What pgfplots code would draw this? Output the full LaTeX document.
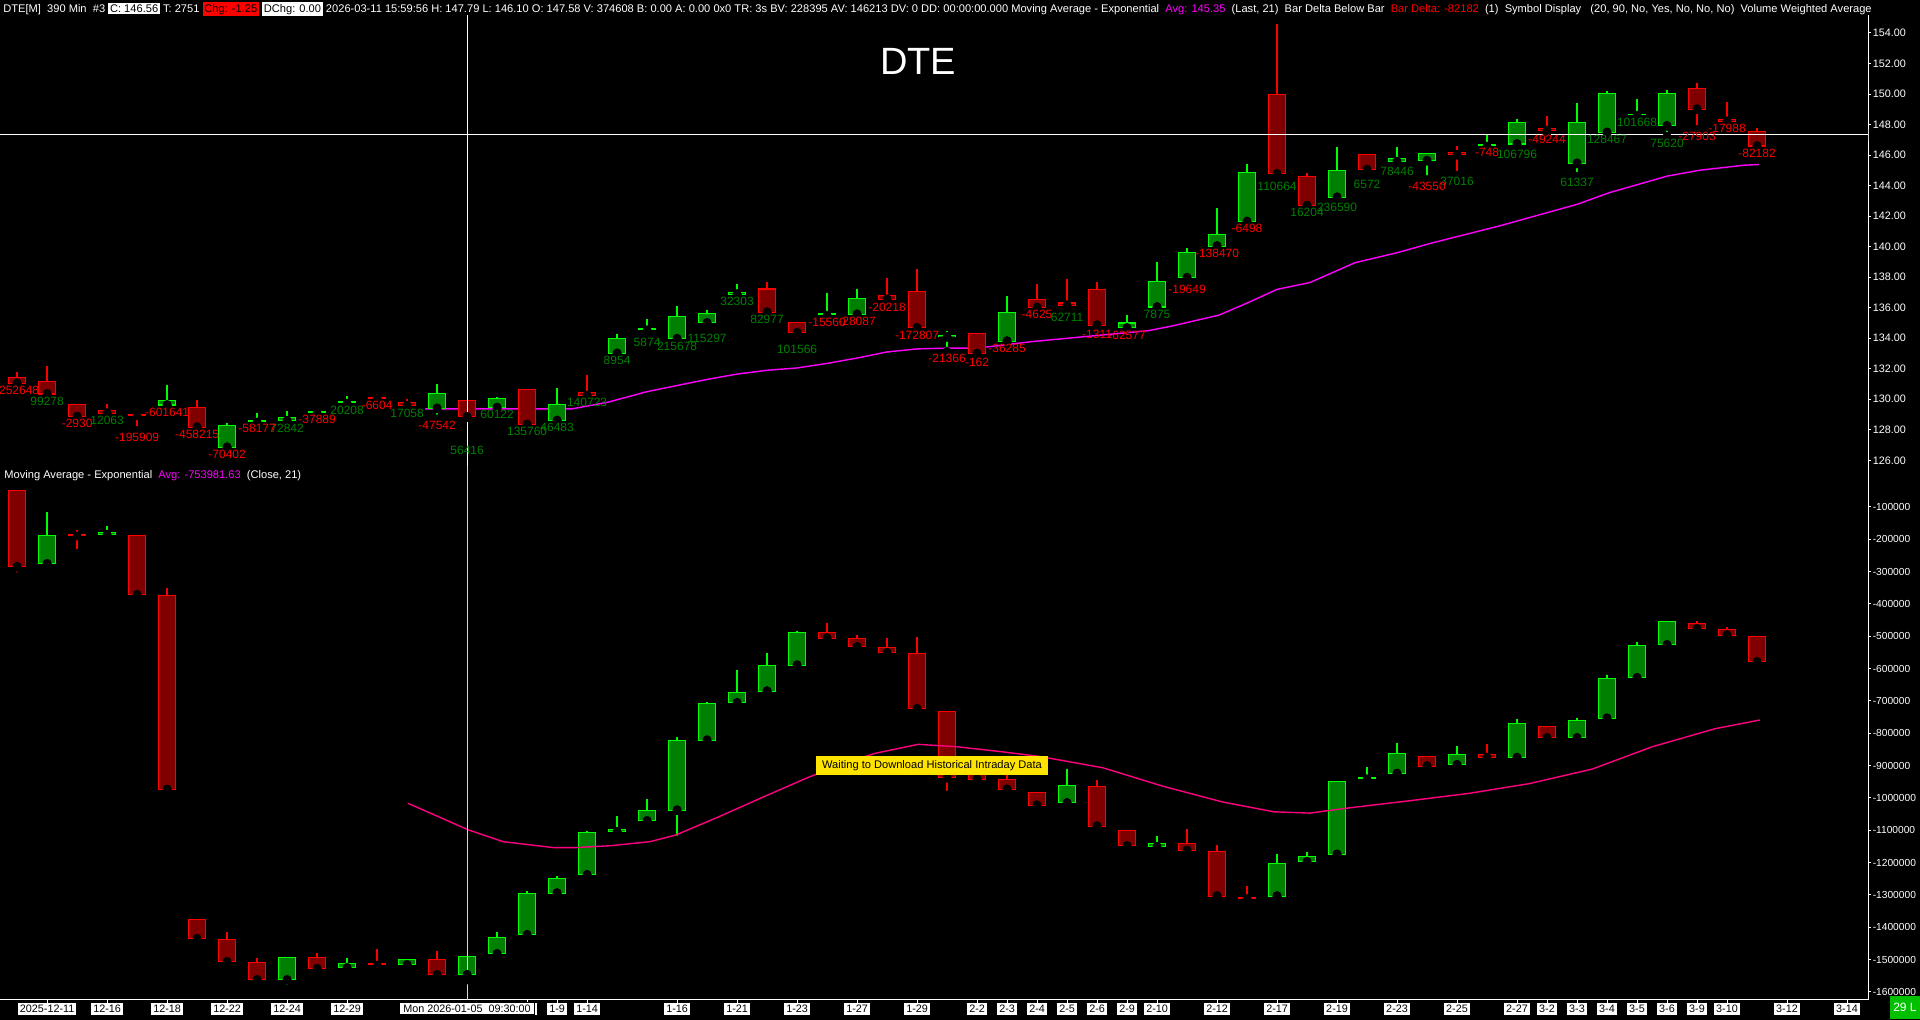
\documentclass[border=0pt]{standalone}
\usepackage{pgfplots}
\pgfplotsset{compat=1.18}
\usepackage{pgfplotstable}
\usepackage{fontspec}
\setmainfont{Liberation Sans}
\definecolor{upfill}{HTML}{008000}
\definecolor{upline}{HTML}{00FF00}
\definecolor{dnfill}{HTML}{800000}
\definecolor{dnline}{HTML}{FF0000}
\definecolor{poslab}{HTML}{008000}
\definecolor{neglab}{HTML}{FF0000}
\definecolor{emaA}{HTML}{FF00FF}
\definecolor{emaB}{HTML}{FF0080}
\definecolor{waitbox}{HTML}{FFE400}
\definecolor{okbox}{HTML}{00C000}
\newcommand{\hdr}{\fontsize{5.55}{6.5}\selectfont}
\newcommand{\lab}{\fontsize{6}{7}\selectfont}
\newcommand{\tck}{\fontsize{5.4}{6}\selectfont}
\newcommand{\tcks}{\fontsize{5.1}{6}\selectfont}
\setlength{\fboxsep}{0.9pt}

% ---------- price panel ----------
\pgfplotstableread{
i o h l c
5 129.59 130.94 129.59 129.94
7 126.82 128.44 126.82 128.33
8 128.50 129.11 128.50 128.59
9 128.55 129.22 128.55 128.83
10 129.09 129.33 129.09 129.16
11 129.74 130.24 129.74 129.80
14 129.37 131.01 128.72 130.42
16 129.42 130.18 129.42 130.07
18 128.57 130.72 128.57 129.70
20 132.97 134.25 132.97 133.99
21 134.55 135.26 134.17 134.65
22 133.93 136.10 133.93 135.43
23 134.97 135.84 134.45 135.63
24 136.85 137.54 136.85 137.06
27 135.50 136.95 135.50 135.56
28 135.53 137.21 135.53 136.66
31 134.05 134.45 133.14 134.24
33 133.77 136.78 133.77 135.69
37 134.64 135.51 134.64 135.03
38 136.01 139.02 136.01 137.76
39 137.93 139.93 137.65 139.67
40 140.00 142.55 140.00 140.85
41 141.61 145.42 141.61 144.90
44 143.20 146.51 143.03 145.01
46 145.53 146.51 145.38 145.81
47 145.60 146.14 144.40 146.14
49 146.58 147.38 146.58 146.64
50 146.69 148.39 146.51 148.17
52 145.42 149.41 144.62 148.17
53 147.45 150.17 147.45 150.06
54 148.60 149.69 148.60 148.66
55 147.88 150.28 147.23 150.06
}\topUp
\pgfplotstableread{
i o h l c
0 131.44 131.77 131.01 131.01
1 131.18 132.20 130.31 130.31
2 129.70 129.70 128.83 128.83
3 129.31 129.68 129.05 129.05
4 129.02 129.02 127.96 128.92
6 129.48 129.96 128.13 128.13
12 130.10 130.35 130.03 130.03
13 129.81 130.03 129.53 129.53
15 129.94 129.94 128.81 128.81
17 130.66 130.66 128.31 128.31
19 130.46 131.59 130.20 130.20
25 137.26 137.65 135.67 135.67
26 135.04 135.04 133.73 134.32
29 136.86 137.97 136.45 136.51
30 137.10 138.52 134.64 134.64
32 134.32 134.32 132.86 132.96
34 136.60 137.54 135.97 135.97
35 136.34 137.87 135.80 136.12
36 137.25 137.71 134.70 134.82
42 150.00 154.59 144.40 144.73
43 144.62 144.83 142.66 142.66
45 146.08 146.08 144.50 145.01
48 146.21 146.58 144.68 145.99
51 147.77 148.58 147.45 147.56
56 150.39 150.71 147.67 148.97
57 148.39 149.47 148.17 148.17
58 147.58 147.79 146.56 146.56
}\topDn
\pgfplotstableread{
i y t
1 130.31 99278
3 129.05 12063
9 128.55 72842
11 129.74 20208
13 129.53 17058
15 127.10 56416
16 129.42 60122
17 128.31 135760
18 128.57 46483
19 130.20 140723
20 132.97 8954
21 134.17 5874
22 133.93 215678
23 134.45 115297
24 136.85 32303
25 135.67 82977
26 133.73 101566
35 135.80 62711
38 136.01 7875
42 144.40 110664
43 142.66 16204
44 143.03 236590
45 144.50 6572
46 145.38 78446
48 144.68 37016
50 146.51 106796
52 144.62 61337
53 147.45 128467
54 148.60 101668
55 147.23 75620
}\posLab
\pgfplotstableread{
i y t
0 131.01 -252648
2 128.83 -2930
4 127.96 -195909
5 129.59 -601641
6 128.13 -458215
7 126.82 -70402
8 128.50 -58177
10 129.09 -37889
12 130.03 -6604
14 128.72 -47542
27 135.50 -15560
28 135.53 -28087
29 136.45 -20218
30 134.64 -172807
31 133.14 -21366
32 132.86 -162
33 133.77 -36285
34 135.97 -4625
36 134.70 -1311
37 134.64 -62577
39 137.65 -19649
40 140.00 -138470
41 141.61 -6498
47 144.40 -43550
49 146.58 -748
51 147.45 -49244
56 147.67 -27903
57 148.17 -17988
58 146.56 -82182
}\negLab

% ---------- cumulative delta panel (thousands) ----------
\pgfplotstableread{
i o h l c
1 -277.5 -114.6 -277.5 -186.8
3 -187.8 -157.9 -207.4 -178.5
9 -1564.3 -1493.1 -1592.0 -1493.1
11 -1527.1 -1495.2 -1527.1 -1510.6
13 -1517.8 -1498.2 -1523.9 -1498.2
15 -1548.7 -1490.0 -1563.3 -1490.0
16 -1483.8 -1414.7 -1483.8 -1431.1
17 -1424.9 -1287.7 -1424.9 -1294.9
18 -1295.9 -1241.5 -1300.5 -1248.7
19 -1239.4 -1102.3 -1239.4 -1106.4
20 -1106.9 -1056.0 -1106.9 -1096.2
21 -1072.3 -1003.3 -1072.3 -1037.4
22 -1039.4 -810.5 -1130.1 -820.8
23 -822.9 -702.3 -848.7 -707.4
24 -707.4 -604.3 -714.6 -673.4
25 -671.3 -550.8 -671.3 -589.9
26 -590.9 -483.7 -604.3 -487.8
35 -1017 -911 -1017 -960
38 -1153 -1119 -1158 -1141
42 -1305 -1172 -1305 -1202
43 -1199 -1168 -1205 -1180
44 -1176 -949 -1176 -949
45 -941 -903 -955 -937
46 -926 -831 -926 -861
48 -899 -838 -899 -865
50 -877 -755 -877 -767
52 -816 -752 -832 -759
53 -755 -620 -755 -630
54 -630 -517 -630 -528
55 -528 -452 -528 -452
}\botUp
\pgfplotstableread{
i o h l c
0 -47.6 -47.6 -315.7 -286.8
2 -183.0 -171.3 -243.5 -190.0
4 -187.8 -187.8 -373.4 -373.4
5 -373.4 -351.7 -975.5 -975.5
6 -1375.5 -1375.5 -1443.0 -1437.4
7 -1437.4 -1414.7 -1511.0 -1508.6
8 -1508.6 -1496.3 -1564.3 -1564.3
10 -1493.1 -1480.7 -1530.2 -1530.2
12 -1510.6 -1467.3 -1517.8 -1517.8
14 -1498.2 -1472.5 -1548.7 -1548.7
27 -487.8 -457.9 -526.0 -507.4
28 -506.4 -496.1 -534.2 -534.2
29 -533.2 -504.3 -558.0 -552.8
30 -552.8 -501.3 -726.0 -726.0
31 -731.1 -731.1 -990.9 -939.4
32 -925 -920 -944 -944
33 -941 -911 -975 -975
34 -983 -983 -1037 -1024
36 -964 -945 -1089 -1089
37 -1100 -1100 -1150 -1150
39 -1141 -1095 -1164 -1164
40 -1164 -1145 -1305 -1305
41 -1305 -1274 -1312 -1312
47 -869 -869 -903 -903
49 -865 -834 -877 -877
51 -778 -778 -816 -816
56 -460 -452 -479 -479
57 -479 -471 -498 -498
58 -498 -498 -581 -581
}\botDn

% candle macro: #1 table, #2 outline colour, #3 fill colour, #4 min body height,
% #5 border (data units), #6 off-screen value used to hide the fill of very thin bodies
\newcommand{\candles}[6]{%
\addplot[only marks, mark=none, forget plot, error bars/.cd, y dir=plus, y explicit, error mark=none,
  error bar style={draw=#2, line width=0.8pt}]
  table[x=i, y=l, y error plus expr={\thisrow{h}-\thisrow{l}}] {#1};
\addplot[only marks, mark=none, forget plot, error bars/.cd, y dir=plus, y explicit, error mark=none,
  error bar style={draw=#2, line width=9pt}]
  table[x=i, y expr={min(\thisrow{o},\thisrow{c})}, y error plus expr={max(abs(\thisrow{c}-\thisrow{o}),#4)}] {#1};
\addplot[only marks, mark=none, forget plot, error bars/.cd, y dir=plus, y explicit, error mark=none,
  error bar style={draw=#3, line width=8pt}]
  table[x=i, y expr={ifthenelse(abs(\thisrow{c}-\thisrow{o})>2.5*#5, min(\thisrow{o},\thisrow{c})+#5, #6)},
        y error plus expr={max(abs(\thisrow{c}-\thisrow{o})-2*#5,0.5*#5)}] {#1};
}

\pgfplotsset{
  panel/.style={
    scale only axis, width=934pt, xmin=-0.571, xmax=61.70,
    axis y line*=right, axis line style={draw=white, line width=0.5pt},
    tick align=outside, major tick length=1.6pt,
    ytick style={draw=white, line width=0.5pt},
    yticklabel style={font=\tck, text=white, inner sep=0.6pt},
  },
}

\begin{document}
\begin{tikzpicture}
\useasboundingbox (0pt,0pt) rectangle (960pt,510pt);
\fill[black] (0pt,0pt) rectangle (960pt,510pt);
\begin{scope}
\clip (0pt,0pt) rectangle (960pt,510pt);

% ---------------- top panel ----------------
\begin{axis}[panel, at={(0pt,502.5pt)}, anchor=north west, height=225.5pt,
  ymin=125.63, ymax=155.18, axis x line=none,
  ytick={126,128,...,154},
  yticklabel style={/pgf/number format/fixed, /pgf/number format/fixed zerofill,
    /pgf/number format/precision=2, /pgf/number format/assume math mode=true}]
\addplot[emaA, line width=0.7pt] coordinates {
(13.6,129.37) (18.5,129.37) (19.7,129.81) (21,130.5) (22,130.9) (23,131.3) (24,131.65)
(25,131.9) (26,132.05) (27,132.35) (28,132.7) (29,133.1) (30,133.3) (31,133.35) (32,133.35)
(33.8,133.77) (35.3,134.05) (37.7,134.49) (38.5,134.8) (40.06,135.51) (41,136.3) (42,137.2)
(43.1,137.65) (44.6,138.95) (46,139.6) (47.2,140.26) (49.4,141.35) (52,142.77) (53.07,143.53)
(55,144.62) (56.1,145.01) (57.6,145.34) (58.06,145.38)};
\candles{\topUp}{upline}{upfill}{0.12}{0.07}{0}
\candles{\topDn}{dnline}{dnfill}{0.12}{0.07}{0}
\addplot[only marks, mark=none, nodes near coords, point meta=explicit symbolic,
  nodes near coords style={anchor=north, font=\lab, text=poslab, inner sep=0.5pt, yshift=-0.5pt}]
  table[x=i, y=y, meta=t] {\posLab};
\addplot[only marks, mark=none, nodes near coords, point meta=explicit symbolic,
  nodes near coords style={anchor=north, font=\lab, text=neglab, inner sep=0.5pt, yshift=-0.5pt}]
  table[x=i, y=y, meta=t] {\negLab};
\addplot[white, line width=0.6pt] coordinates {(-0.571,147.34) (61.70,147.34)};
\addplot[white, line width=0.6pt] coordinates {(15,125.63) (15,155.18)};
\node[fill=white, text=black, font=\tck, inner sep=0.8pt, anchor=west] at (axis cs:61.70,146.56) {146.56};
\node[fill=white, text=black, font=\tck, inner sep=0.8pt, anchor=west, draw=black, line width=0.3pt] at (axis cs:61.70,147.34) {147.34};
\end{axis}

% ---------------- bottom panel ----------------
\begin{axis}[panel, at={(0pt,277pt)}, anchor=north west, height=267pt,
  ymin=-1625, ymax=26.5, axis x line*=bottom,
  ytick={-1600,-1500,...,-100},
  yticklabels={-1600000,-1500000,-1400000,-1300000,-1200000,-1100000,-1000000,-900000,-800000,-700000,-600000,-500000,-400000,-300000,-200000,-100000},
  yticklabel style={font=\tcks},
  xtick={1,3,5,7,9,11,17,18,19,22,24,26,28,30,32,33,34,35,36,37,38,40,42,44,46,48,50,51,52,53,54,55,56,57,59,61},
  xticklabels={2025-12-11,12-16,12-18,12-22,12-24,12-29,1-8,1-9,1-14,1-16,1-21,1-23,1-27,1-29,2-2,2-3,2-4,2-5,2-6,2-9,2-10,2-12,2-17,2-19,2-23,2-25,2-27,3-2,3-3,3-4,3-5,3-6,3-9,3-10,3-12,3-14},
  xtick style={draw=white, line width=0.5pt},
  xticklabel style={font=\tck, text=black, fill=white, inner xsep=1pt, inner ysep=1.1pt, yshift=0.3pt}]
\candles{\botUp}{upline}{upfill}{4.5}{3.1}{500}
\candles{\botDn}{dnline}{dnfill}{4.5}{3.1}{500}
\addplot[emaB, line width=0.7pt] coordinates {
(13.03,-1016.7) (15.05,-1099.2) (16.2,-1135.3) (17.9,-1153.9) (18.6,-1153.9) (19.8,-1147.7)
(21.1,-1135.3) (21.96,-1114.7) (23.4,-1058.0) (24.9,-996.1) (26.3,-939.4) (27.5,-895.0)
(28.6,-862.1) (30.04,-834.4) (31.3,-841.6) (32.8,-856.9) (34.1,-872.0) (36.2,-907.0)
(38.2,-964.0) (40.2,-1013.0) (41.9,-1043.0) (43.1,-1047.0) (44.3,-1032.0) (46.4,-1009.0)
(48.4,-986.0) (50.4,-956.0) (52.5,-911.0) (54.5,-842.0) (56.6,-786.0) (58.1,-759.0)};
\addplot[white!85!black, line width=0.4pt] coordinates {(15,-1625) (15,26.5)};
\end{axis}

% ---------------- texts ----------------
\node[anchor=north west, inner sep=0pt, text=white, font=\hdr] at (1.5pt,509pt)
 {DTE[M]\ \ 390 Min\ \ \#3 \colorbox{white}{\textcolor{black}{C: 146.56}} T: 2751 \colorbox{red}{\textcolor{black}{Chg: -1.25}} \colorbox{white}{\textcolor{black}{DChg: 0.00}} 2026-03-11 15:59:56 H: 147.79 L: 146.10 O: 147.58 V: 374608 B: 0.00 A: 0.00 0x0 TR: 3s BV: 228395 AV: 146213 DV: 0 DD: 00:00:00.000 Moving Average - Exponential\ \ \textcolor{emaA}{Avg: 145.35}\ \ (Last, 21)\ \ Bar Delta Below Bar\ \ \textcolor{red}{Bar Delta: -82182}\ \ (1)\ \ Symbol Display\ \ \ (20, 90, No, Yes, No, No, No)\ \ Volume Weighted Average};
\node[anchor=north west, inner sep=0pt, text=white, font=\hdr] at (2pt,275pt)
 {Moving Average - Exponential\ \ \textcolor{emaA}{Avg: -753981.63}\ \ (Close, 21)};
\node[text=white, font=\fontsize{19}{19}\selectfont, inner sep=0pt] at (459pt,479.5pt) {DTE};
\node[fill=waitbox, text=black, font=\hdr, inner xsep=3pt, inner ysep=2pt] at (466pt,127.2pt) {Waiting to Download Historical Intraday Data};
\node[fill=white, draw=black, line width=0.3pt, text=black, font=\tck, inner xsep=2pt, inner ysep=1.1pt, anchor=north] at (233.5pt,9pt) {Mon 2026-01-05\ \ 09:30:00};
\node[fill=okbox, text=white, font=\fontsize{6}{7}\selectfont, inner xsep=1.5pt, minimum height=11.5pt, anchor=south east] at (960pt,0.5pt) {29 L};
\end{scope}
\end{tikzpicture}
\end{document}
